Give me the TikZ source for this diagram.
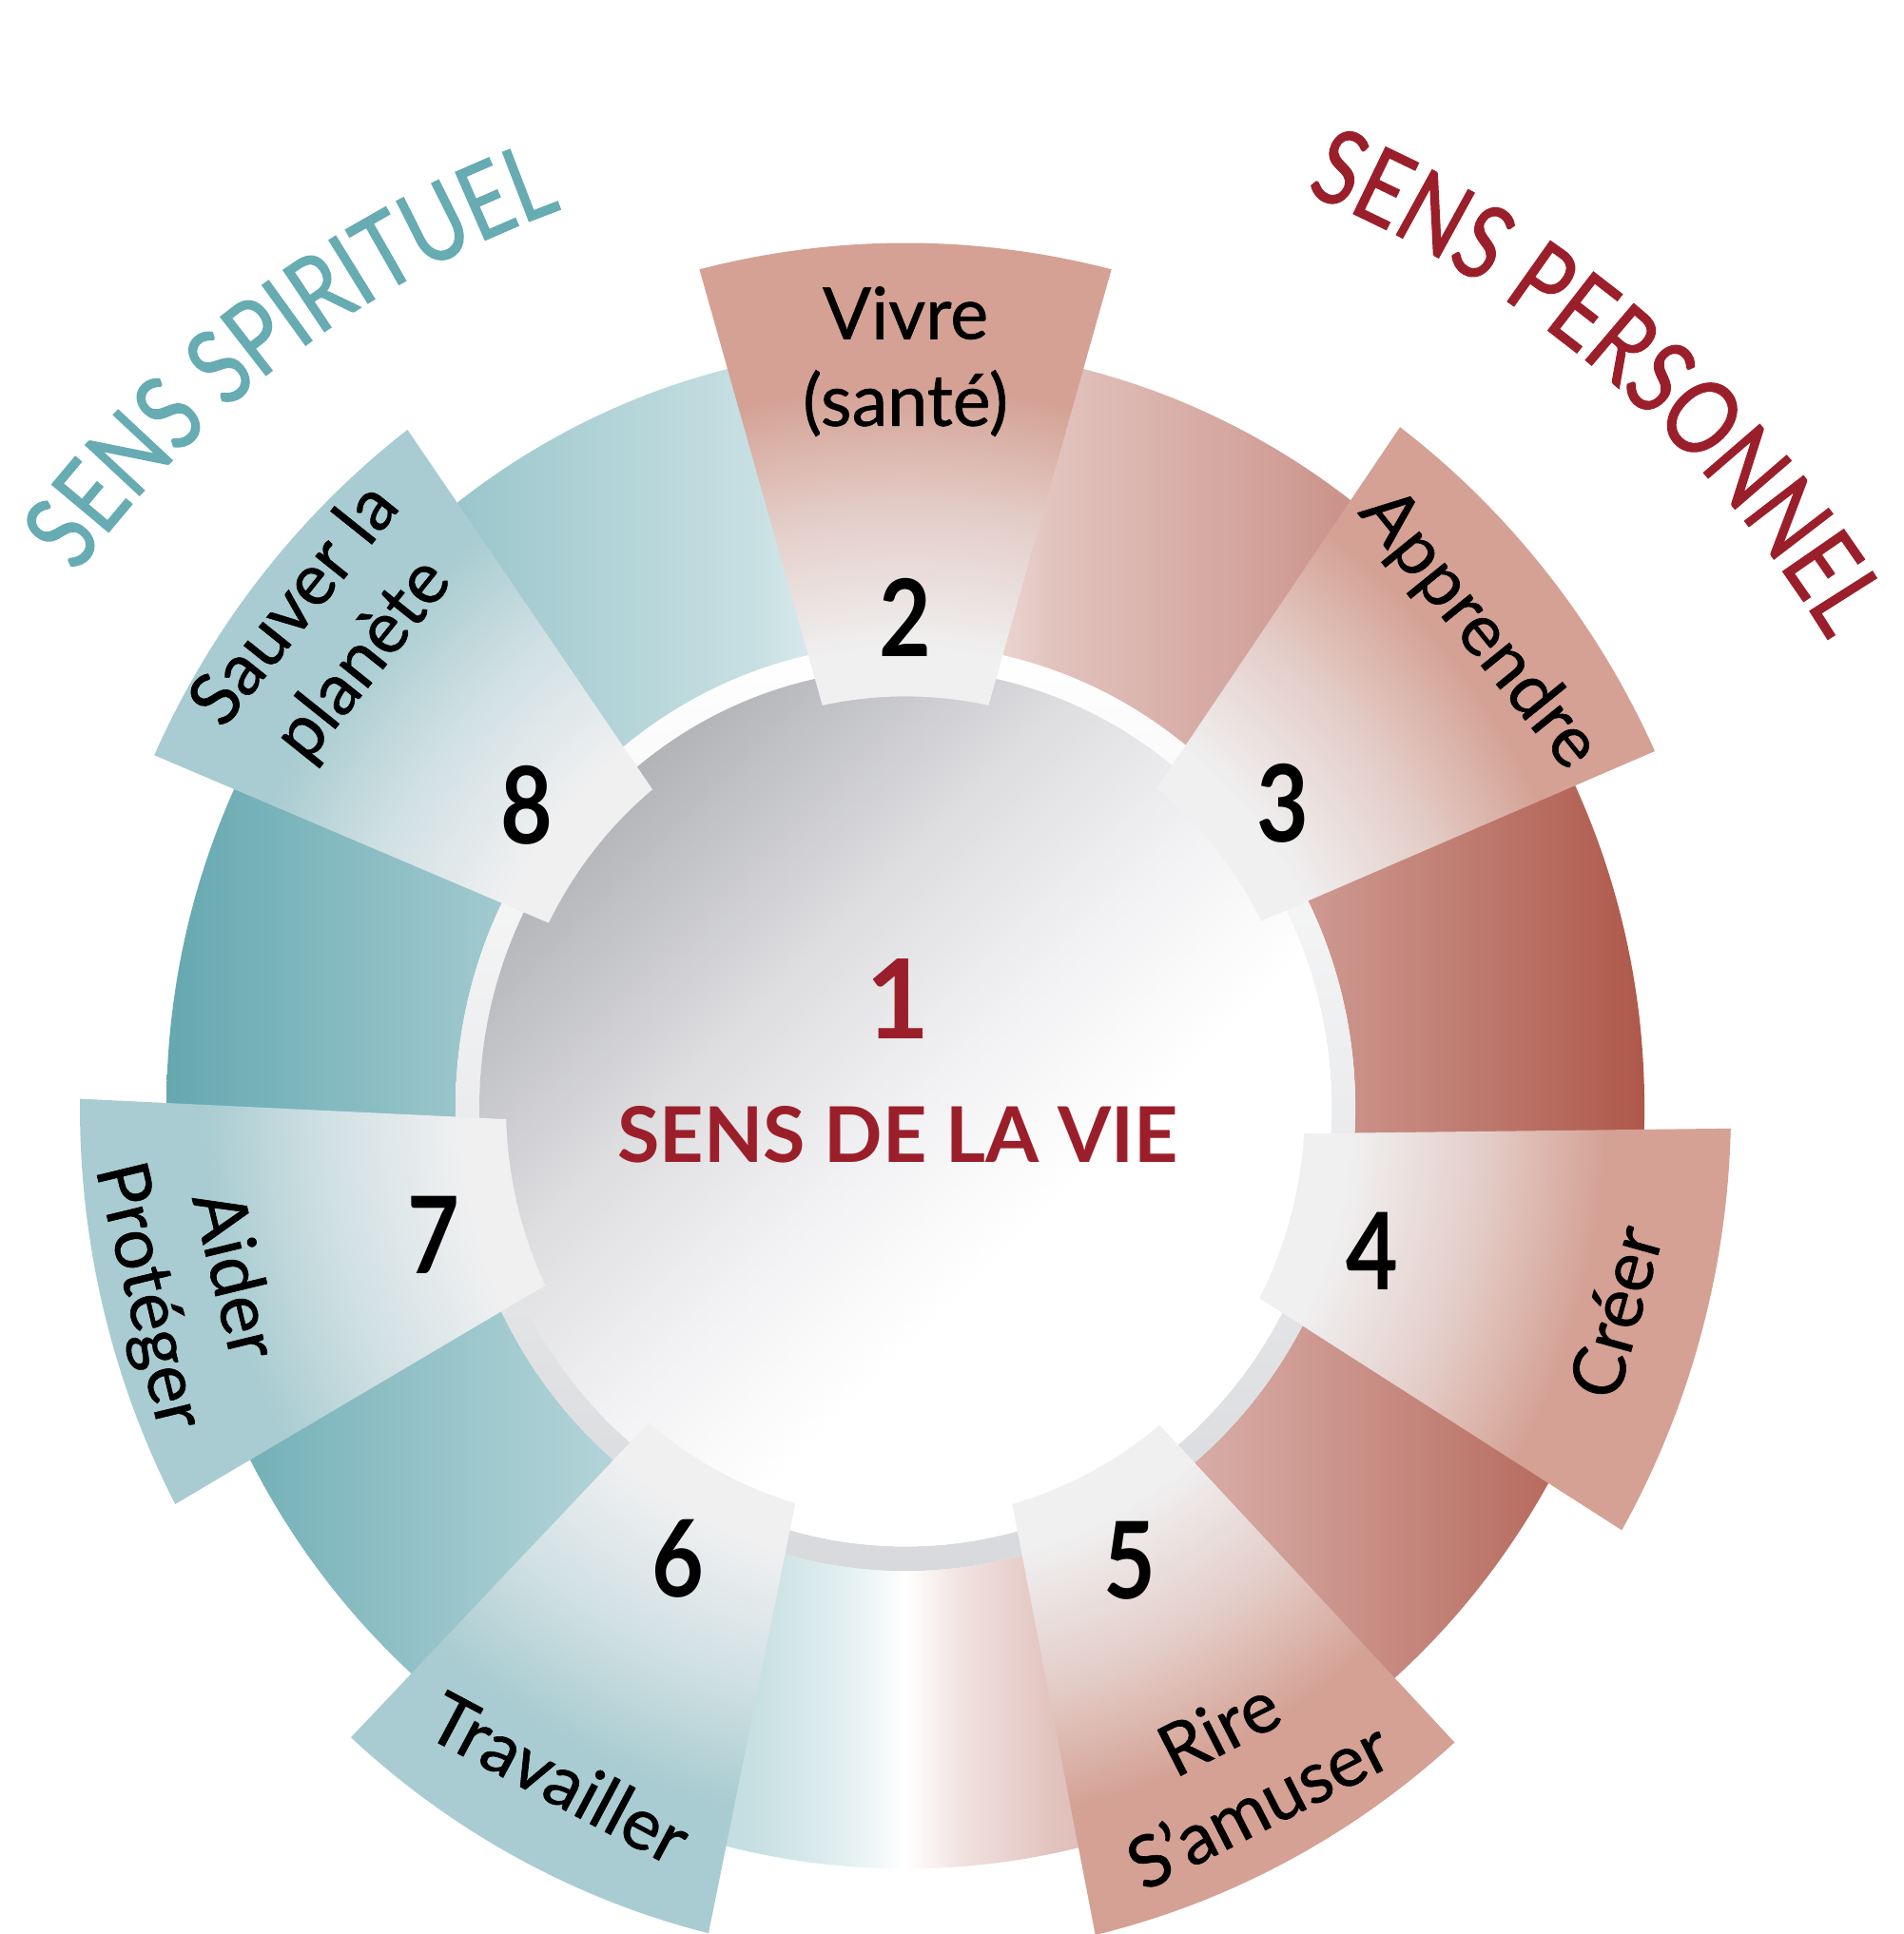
\documentclass[tikz,border=0pt]{standalone}
\usepackage{fontspec}
\setmainfont{Lato}
\newfontfamily\condfont[FakeStretch=0.84]{Lato}
\newfontfamily\titleface[FakeStretch=0.8, FakeBold=1]{Lato}
\newfontfamily\wordface[FakeBold=0.8]{Lato}
\usepackage{tikz}
\usetikzlibrary{calc}
\usetikzlibrary{decorations.text}
\definecolor{spirit}{RGB}{103,171,179}
\definecolor{wine}{RGB}{155,31,42}
\definecolor{ringteal}{RGB}{101,168,176}
\definecolor{ringred}{RGB}{174,88,74}
\definecolor{tabred}{RGB}{212,161,148}
\definecolor{tabteal}{RGB}{168,204,209}
\definecolor{tablight}{RGB}{240,240,241}
\definecolor{bandgray}{RGB}{216,217,220}
\definecolor{discgray}{RGB}{178,179,183}
\definecolor{discmid}{RGB}{222,222,225}
\definecolor{disclight}{RGB}{241,241,243}
\colorlet{ringtealB}{ringteal!78!white}
\colorlet{ringtealC}{ringteal!57!white}
\colorlet{ringtealD}{ringteal!36!white}
\colorlet{ringtealE}{ringteal!18!white}
\colorlet{ringredB}{ringred!78!white}
\colorlet{ringredC}{ringred!57!white}
\colorlet{ringredD}{ringred!36!white}
\colorlet{ringredE}{ringred!18!white}
\colorlet{tabredM}{tabred!45!tablight}
\colorlet{tabtealM}{tabteal!45!tablight}
\pgfdeclarehorizontalshading{ringshade}{100bp}{color(0bp)=(ringteal); color(25bp)=(ringteal); color(31.25bp)=(ringtealB); color(37.5bp)=(ringtealC); color(45bp)=(ringtealD); color(48bp)=(ringtealE); color(50bp)=(white); color(52bp)=(ringredE); color(55bp)=(ringredD); color(62.5bp)=(ringredC); color(68.75bp)=(ringredB); color(75bp)=(ringred); color(100bp)=(ringred)}
\pgfdeclareverticalshading{discshade}{100bp}{color(0bp)=(white); color(40bp)=(white); color(50bp)=(disclight); color(60bp)=(discmid); color(75bp)=(discgray); color(100bp)=(discgray)}
\pgfdeclareradialshading{tabredshade}{\pgfpoint{0bp}{0bp}}{color(0bp)=(tablight); color(13bp)=(tablight); color(17bp)=(tabredM); color(20.5bp)=(tabred); color(50bp)=(tabred)}
\pgfdeclareradialshading{tabtealshade}{\pgfpoint{0bp}{0bp}}{color(0bp)=(tablight); color(13bp)=(tablight); color(17bp)=(tabtealM); color(20.5bp)=(tabteal); color(50bp)=(tabteal)}
\newcommand{\sensfont}{\titleface\fontsize{31}{34}\selectfont}
\tikzstyle{tabnum}=[font=\condfont\bfseries\fontsize{32}{34}\selectfont, inner sep=0pt, yshift=-1mm]
\tikzstyle{tabtext}=[font=\wordface\fontsize{21.5}{26}\selectfont, align=center, inner sep=0pt]
\tikzstyle{centertext}=[text=wine, font=\fontsize{23}{27}\selectfont\bfseries, inner sep=0pt]

\begin{document}
\begin{tikzpicture}[x=0.1mm, y=0.103mm]
    \useasboundingbox (0,0) rectangle (2001,1974.8);
    \begin{scope}[shift={(952,843.7)}]
    \coordinate (c) at (0,0);
    % Draw the ring, the thin band and the centre disc
    \shade[shading=ringshade, even odd rule] (c) circle (777) (c) circle (473);
    \shade[even odd rule, top color=white, bottom color=bandgray] (c) circle (473) (c) circle (448);
    \shade[shading=discshade, shading angle=45] (c) circle (448);
    % Then the seven tabs, each with its number and its words
    \foreach \ang/\len/\sh/\num/\lr/\rot/\txt in {90/883/tabredshade/2/762/0/{Vivre\\(santé)},
                                                  39/868/tabredshade/3/775/-51/Apprendre,
                                                  -15.6/868/tabredshade/4/775/74.4/Créer,
                                                  -62.5/868/tabredshade/5/758/27/{Rire\\S’amuser},
                                                  -118/868/tabtealshade/6/775/-28/Travailler,
                                                  193.6/868/tabtealshade/7/775/-76.4/{Aider\\Protéger},
                                                  141.3/868/tabtealshade/8/775/51.3/{Sauver la\\planète}}
    {
        \begin{scope}
        \clip (\ang-12:420) -- (\ang-14.2:\len) arc[start angle=\ang-14.2, end angle=\ang+14.2, radius=\len]
              -- (\ang+12:420) arc[start angle=\ang+12, end angle=\ang-12, radius=420] -- cycle;
        \shade[shading=\sh] (c) circle (900);
        \end{scope}
        \node[tabnum] (n\num) at (\ang:510) {\num};
        \node[tabtext, rotate=\rot] (w\num) at (\ang:\lr) {\txt};
    }
    % Centre words
    \node[centertext, font=\fontsize{33}{36}\selectfont\bfseries] (one) at (-8,111) {1};
    \node[centertext] (sense) at (-8,-27) {SENS DE LA VIE};
    % The two curved titles
    \begin{scope}[shift={(0,-113)}]
    \path[decorate, decoration={text along path, text align=center,
          text={|\sensfont\color{spirit}|SENS SPIRITUEL}}]
          (156:1092) arc[start angle=156, end angle=96, radius=1092];
    \end{scope}
    \begin{scope}[shift={(0,-131)}]
    \path[decorate, decoration={text along path, text align=center,
          text={|\sensfont\color{wine}|SENS PERSONNEL}}]
          (80.4:1145) arc[start angle=80.4, end angle=20.4, radius=1145];
    \end{scope}
    \end{scope}
\end{tikzpicture}
\end{document}
